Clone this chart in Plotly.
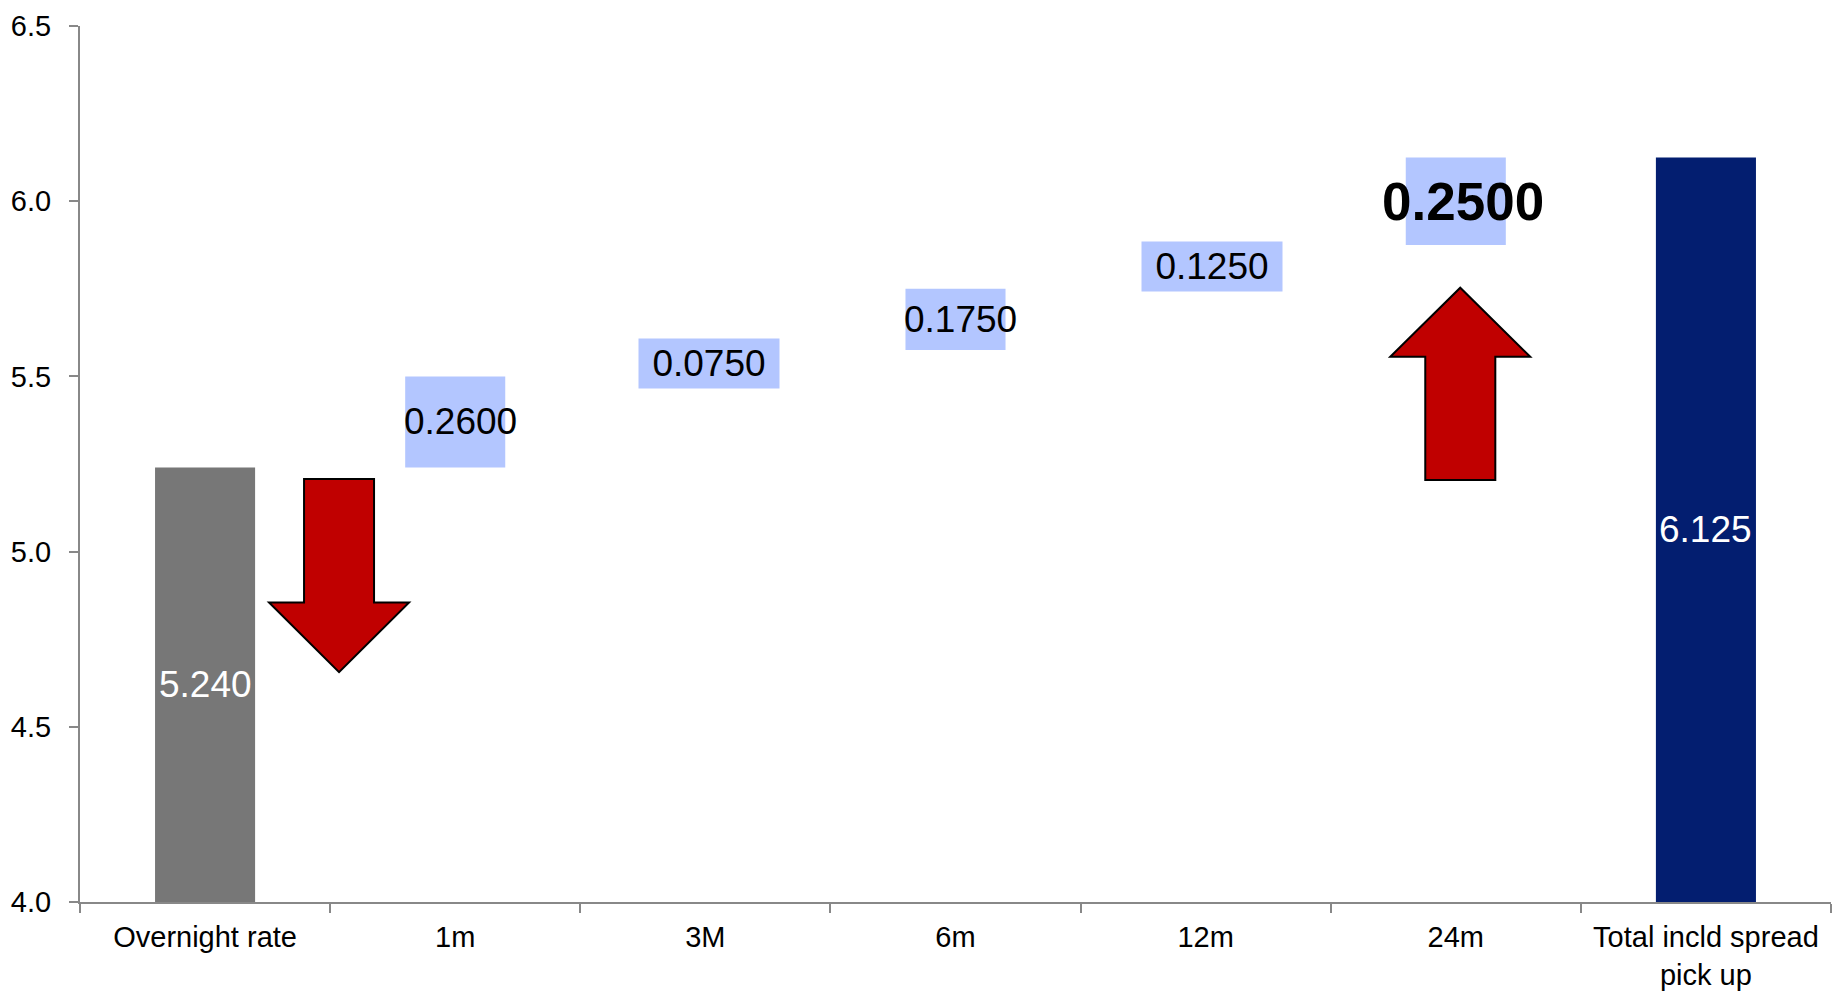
import plotly.graph_objects as go

# ---- data ----
categories = ["Overnight rate", "1m", "3M", "6m", "12m", "24m", "Total incld spread<br>pick up"]
overnight_rate = 5.240
increments = [0.2600, 0.0750, 0.1750, 0.1250, 0.2500]
total_rate = 6.125
y_ticks = [4.0, 4.5, 5.0, 5.5, 6.0, 6.5]

# ---- derived bar geometry (waterfall) ----
bases = [0.0]
heights = [overnight_rate]
running = overnight_rate
for inc in increments:
    bases.append(running)
    heights.append(inc)
    running += inc
bases.append(0.0)
heights.append(total_rate)

labels = ["%.3f" % overnight_rate] + ["%.4f" % v for v in increments] + ["%.3f" % total_rate]

# ---- styles ----
GRAY = "#777777"
LIGHT = "#B3C6FF"
NAVY = "#031E70"
RED = "#C00000"
AXIS = "#888888"
FONT = "Arial, Liberation Sans, sans-serif"

colors = [GRAY] + [LIGHT] * len(increments) + [NAVY]
label_colors = ["white"] + ["black"] * len(increments) + ["white"]
label_sizes = [37, 37, 37, 37, 37, 53, 37]
label_bold = [False, False, False, False, False, True, False]
label_bg = [None, None, LIGHT, None, LIGHT, None, None]
label_xshift = [0, 5, 4, 5, 6, 7, 0]

fig = go.Figure()
fig.add_trace(go.Bar(
    x=categories, y=heights, base=bases,
    marker=dict(color=colors, line=dict(width=0)),
    width=0.4, hoverinfo="skip", showlegend=False,
))

# data labels
for i, cat in enumerate(categories):
    mid = bases[i] + heights[i] / 2 if i not in (0, len(categories) - 1) else (4.0 + heights[i]) / 2
    txt = "<b>%s</b>" % labels[i] if label_bold[i] else labels[i]
    kw = {}
    if label_bg[i]:
        kw = dict(bgcolor=label_bg[i], width=140, height=49, borderpad=0)
    fig.add_annotation(
        x=cat, y=mid, xref="x", yref="y", text=txt, showarrow=False,
        font=dict(family=FONT, size=label_sizes[i], color=label_colors[i]),
        xanchor="center", yanchor="middle", xshift=label_xshift[i], **kw,
    )

# decorative block arrows (in category-index units on overlay axis x2)
down_arrow = [(0.3957, 5.207), (0.6755, 5.207), (0.6755, 4.855), (0.8155, 4.855),
              (0.5356, 4.656), (0.2557, 4.855), (0.3957, 4.855)]
up_arrow = [(4.878, 5.204), (5.158, 5.204), (5.158, 5.556), (5.2977, 5.556),
            (5.0178, 5.753), (4.738, 5.556), (4.878, 5.556)]
for poly in (down_arrow, up_arrow):
    path = "M " + " L ".join("%f,%f" % p for p in poly) + " Z"
    fig.add_shape(type="path", path=path, xref="x2", yref="y",
                  fillcolor=RED, line=dict(color="black", width=2), layer="above")

fig.update_layout(
    width=1842, height=993,
    margin=dict(l=80, r=11, t=26, b=91, autoexpand=False),
    plot_bgcolor="white", paper_bgcolor="white",
    font=dict(family=FONT, size=29, color="black"),
    bargap=0.6,
    xaxis=dict(
        type="category", range=[-0.5, 6.5], showline=True, linecolor=AXIS, linewidth=2,
        ticks="outside", tickson="boundaries", ticklen=9, tickcolor=AXIS, tickwidth=2,
        showgrid=False, zeroline=False, tickfont=dict(size=29, color="black"),
        ticklabelstandoff=8, automargin=False,
    ),
    xaxis2=dict(overlaying="x", range=[-0.5, 6.5], visible=False, showgrid=False, zeroline=False),
    yaxis=dict(
        range=[4.0, 6.5], tickvals=y_ticks, ticktext=["%.1f" % v for v in y_ticks],
        showline=True, linecolor=AXIS, linewidth=2, ticks="outside", ticklen=9,
        tickcolor=AXIS, tickwidth=2, showgrid=False, zeroline=False,
        tickfont=dict(size=29, color="black"), ticklabelstandoff=12, automargin=False,
    ),
)

fig.write_html("out.html")
